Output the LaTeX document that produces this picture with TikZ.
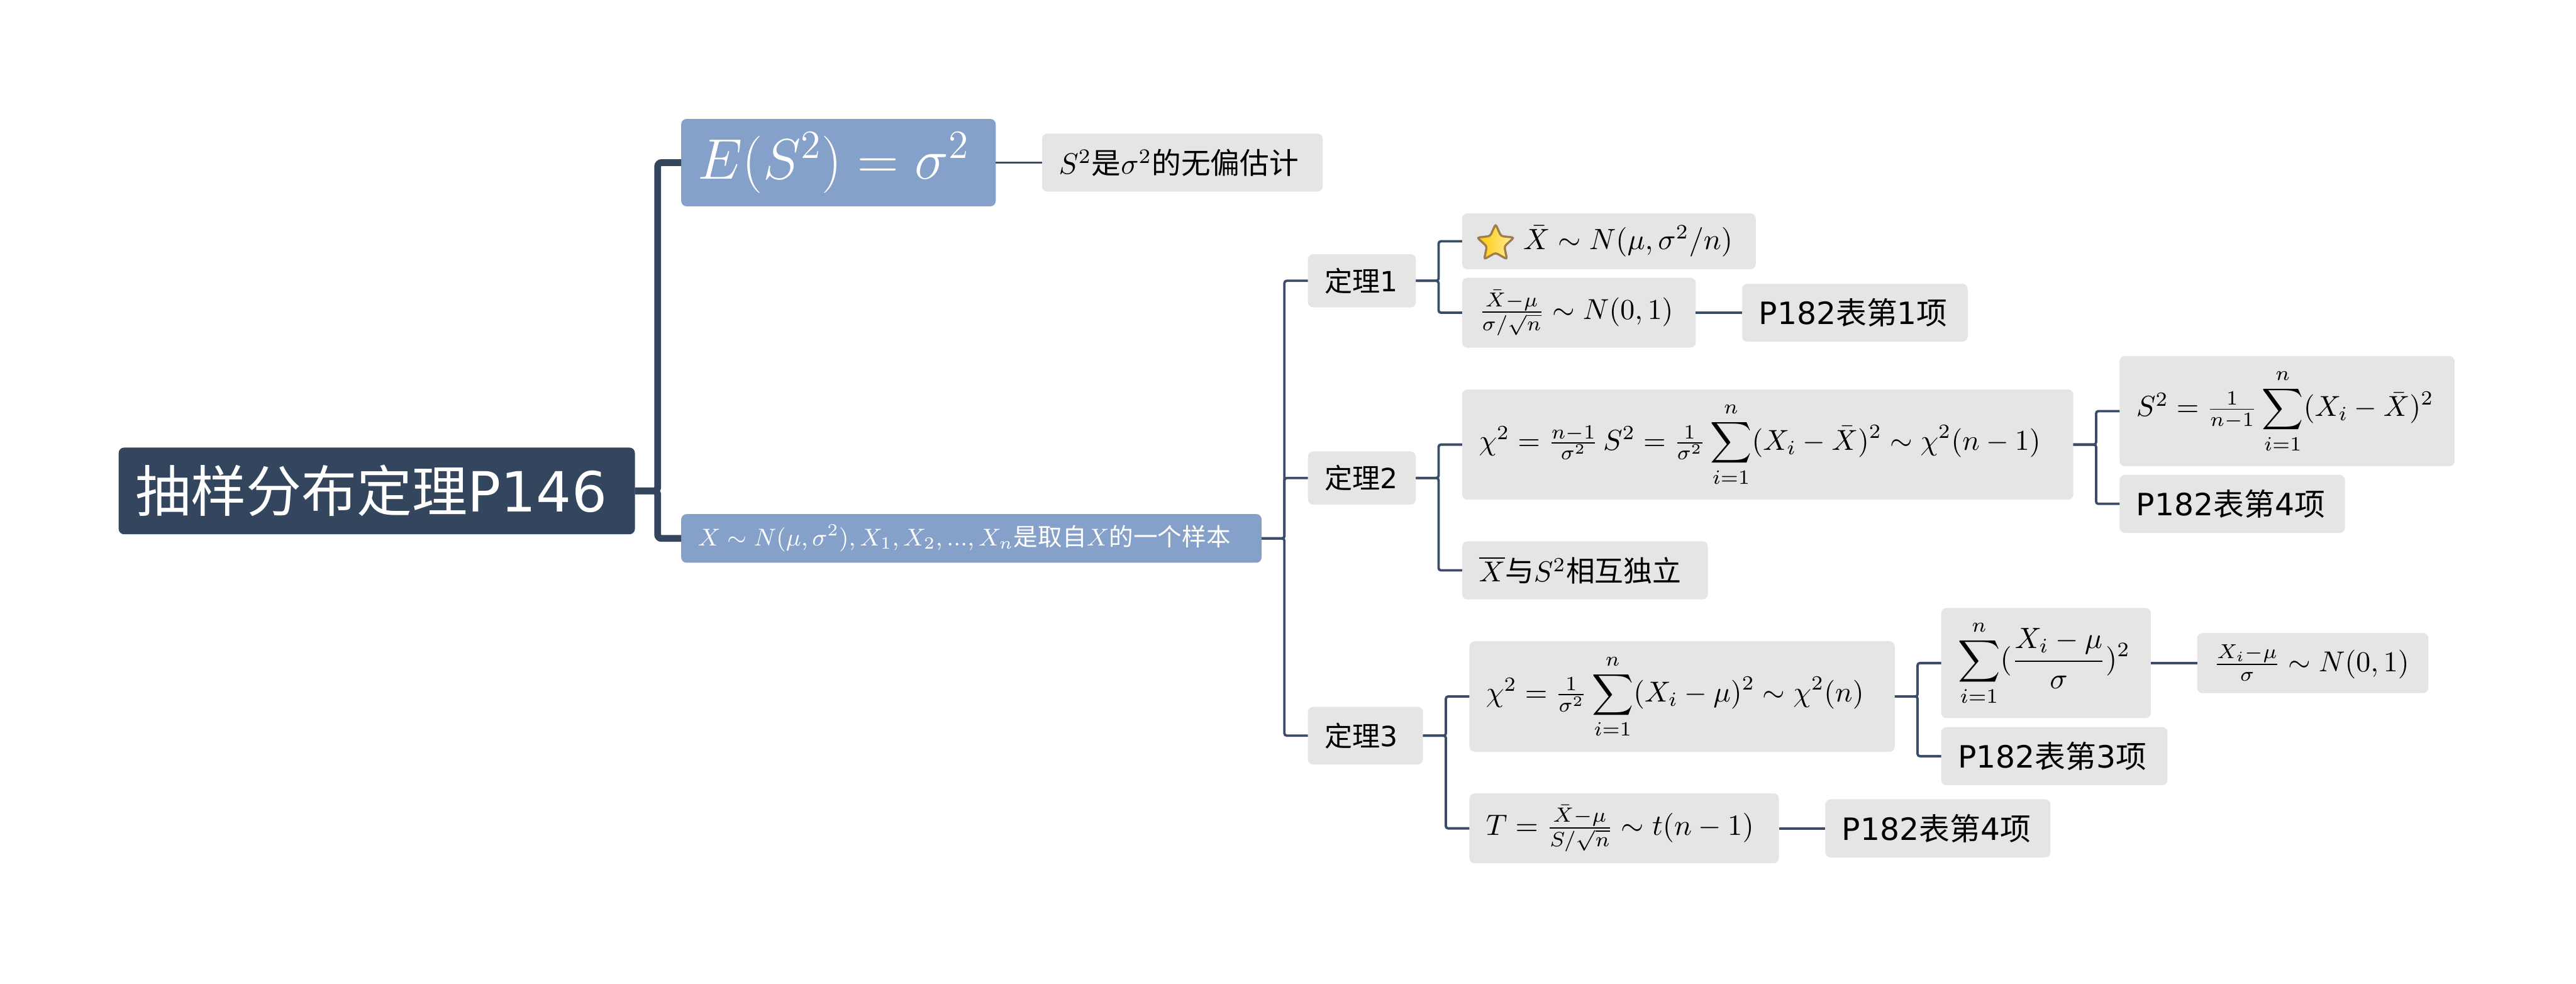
\documentclass[tikz,border=0pt]{standalone}
\usepackage{fix-cm}
\usepackage{amsmath,amssymb}
\usepackage[no-math]{fontspec}
\setmainfont{DejaVu Sans}
\newfontfamily\cjk{Noto Sans CJK SC}
\usepackage{tikz}
\usetikzlibrary{positioning,shapes.geometric}
\definecolor{rootblue}{HTML}{34465D}
\definecolor{wireblue}{HTML}{3B4C66}
\definecolor{mainblue}{HTML}{85A1C9}
\definecolor{leafgray}{HTML}{E5E5E5}
\definecolor{stargold}{HTML}{FFC800}
\definecolor{starpale}{HTML}{FFEE9E}
\definecolor{starline}{HTML}{A07D4F}
\tikzset{
  node distance=6.1mm,
  boxsize/.style 2 args={text width={#1-0.44cm},minimum height=#2},
  anybox/.style={outer sep=0pt,inner xsep=.22cm,inner ysep=0pt,
    rounded corners=0.7mm,align=left},
  rootbox/.style={anybox,fill=rootblue,text=white,
    font=\fontsize{20.75}{24}\selectfont},
  mainbox/.style={anybox,fill=mainblue,text=white},
  thmbox/.style={anybox,fill=leafgray,font=\fontsize{10.4}{12}\selectfont},
  leafbox/.style={anybox,fill=leafgray,font=\fontsize{11}{14}\selectfont},
  tightbox/.style={anybox,fill=leafgray,font=\fontsize{10.8}{14}\selectfont},
  tablebox/.style={anybox,fill=leafgray,font=\fontsize{11.5}{14}\selectfont},
  trunk/.style={draw=rootblue,line width=2.55pt,rounded corners=0.5mm},
  twig/.style={draw=wireblue,line width=0.9pt,rounded corners=0.3mm},
  favstar/.style={star,star points=5,star point ratio=2.1,inner sep=0pt,
    minimum size=5.1mm,rounded corners=0.3mm,left color=stargold,
    right color=starpale,draw=starline,line width=0.8pt},
}
\begin{document}
\begin{tikzpicture}
  \useasboundingbox (0,0) rectangle (33.91,-12.94);
  \node[rootbox,boxsize={6.795cm}{1.14cm}] (root) at (4.96,-6.46) {{\cjk 抽样分布定理}P146};
  \node[mainbox,boxsize={4.14cm}{1.15cm},right=of root,yshift=4.32cm,
    font=\fontsize{21.4}{24}\selectfont] (meaneq) {$E(S^2)=\sigma^2$};
  \node[mainbox,boxsize={7.64cm}{.64cm},right=of root,yshift=-.625cm,
    font=\fontsize{9.1}{12}\selectfont] (sample)
    {$X\sim N(\mu,\sigma^2),X_1,X_2,...,X_n${\cjk 是取自}$X${\cjk 的一个样本}};
  \node[leafbox,boxsize={3.695cm}{.765cm},right=of meaneq] (unbiased)
    {$S^2${\cjk 是}$\sigma^2${\cjk 的无偏估计}};

  \node[thmbox,boxsize={1.42cm}{.70cm},right=of sample,yshift=3.39cm] (thmA) {{\cjk 定理}1};
  \node[thmbox,boxsize={1.42cm}{.70cm},right=of sample,yshift=.795cm] (thmB) {{\cjk 定理}2};
  \node[thmbox,boxsize={1.515cm}{.76cm},right=of sample,yshift=-2.595cm] (thmC) {{\cjk 定理}3};

  % theorem 1
  \node[leafbox,boxsize={3.865cm}{.735cm},right=of thmA,yshift=.52cm] (meandist)
    {\hspace*{.585cm}$\bar{X}\sim N(\mu,\sigma^2/n)$};
  \node[favstar] (starmark) at ([xshift=.44cm,yshift=-.03cm]meandist.west) {};
  \node[tightbox,boxsize={3.075cm}{.92cm},right=of thmA,yshift=-.42cm] (stdnorm)
    {$\frac{\bar{X}-\mu}{\sigma/\sqrt{n}}\sim N(0,1)$};
  \node[tablebox,boxsize={2.97cm}{.765cm},right=of stdnorm] (tabA) {P182{\cjk 表第}1{\cjk 项}};

  % theorem 2
  \node[tightbox,boxsize={8.045cm}{1.45cm},right=of thmB,yshift=.44cm] (chivar)
    {$\chi^2=\frac{n-1}{\sigma^2}\,S^2=\frac{1}{\sigma^2}\displaystyle\sum_{i=1}^{n}(X_i-\bar{X})^2\sim\chi^2(n-1)$};
  \node[tightbox,boxsize={4.41cm}{1.45cm},right=of chivar,yshift=.44cm] (svar)
    {$S^2=\frac{1}{n-1}\displaystyle\sum_{i=1}^{n}(X_i-\bar{X})^2$};
  \node[tablebox,boxsize={2.965cm}{.765cm},right=of chivar,yshift=-.78cm] (tabB) {P182{\cjk 表第}4{\cjk 项}};
  \node[tightbox,boxsize={3.235cm}{.765cm},right=of thmB,yshift=-1.215cm] (indep)
    {$\overline{X}${\cjk 与}$S^2${\cjk 相互独立}};

  % theorem 3
  \node[tightbox,boxsize={5.6cm}{1.455cm},right=of thmC,yshift=.515cm] (chimu)
    {$\chi^2=\frac{1}{\sigma^2}\displaystyle\sum_{i=1}^{n}(X_i-\mu)^2\sim\chi^2(n)$};
  \node[leafbox,boxsize={2.76cm}{1.45cm},right=of chimu,yshift=.44cm] (sumsq)
    {$\displaystyle\sum_{i=1}^{n}(\frac{X_i-\mu}{\sigma})^2$};
  \node[tightbox,boxsize={3.045cm}{.79cm},right=of sumsq] (unitnorm)
    {\mbox{$\frac{X_i-\mu}{\sigma}\sim N(0,1)$}};
  \node[tablebox,boxsize={2.98cm}{.765cm},right=of chimu,yshift=-.785cm] (tabC) {P182{\cjk 表第}3{\cjk 项}};
  \node[leafbox,boxsize={4.075cm}{.92cm},right=of thmC,yshift=-1.22cm] (tstat)
    {$T=\frac{\bar{X}-\mu}{S/\sqrt{n}}\sim t(n-1)$};
  \node[tablebox,boxsize={2.965cm}{.765cm},right=of tstat] (tabD) {P182{\cjk 表第}4{\cjk 项}};

  \draw[trunk] (root.east) -- ++(3mm,0) |- (meaneq.west);
  \draw[trunk] (root.east) -- ++(3mm,0) |- (sample.west);
  \draw[twig] (meaneq) -- (unbiased);
  \draw[twig] (sample.east) -- ++(3mm,0) |- (thmA.west);
  \draw[twig] (sample.east) -- ++(3mm,0) |- (thmB.west);
  \draw[twig] (sample.east) -- ++(3mm,0) |- (thmC.west);
  \draw[twig] (thmA.east) -- ++(3mm,0) |- (meandist.west);
  \draw[twig] (thmA.east) -- ++(3mm,0) |- (stdnorm.west);
  \draw[twig] (stdnorm) -- (tabA);
  \draw[twig] (thmB.east) -- ++(3mm,0) |- (chivar.west);
  \draw[twig] (thmB.east) -- ++(3mm,0) |- (indep.west);
  \draw[twig] (chivar.east) -- ++(3mm,0) |- (svar.west);
  \draw[twig] (chivar.east) -- ++(3mm,0) |- (tabB.west);
  \draw[twig] (thmC.east) -- ++(3mm,0) |- (chimu.west);
  \draw[twig] (thmC.east) -- ++(3mm,0) |- (tstat.west);
  \draw[twig] (chimu.east) -- ++(3mm,0) |- (sumsq.west);
  \draw[twig] (chimu.east) -- ++(3mm,0) |- (tabC.west);
  \draw[twig] (sumsq) -- (unitnorm);
  \draw[twig] (tstat) -- (tabD);
\end{tikzpicture}
\end{document}
